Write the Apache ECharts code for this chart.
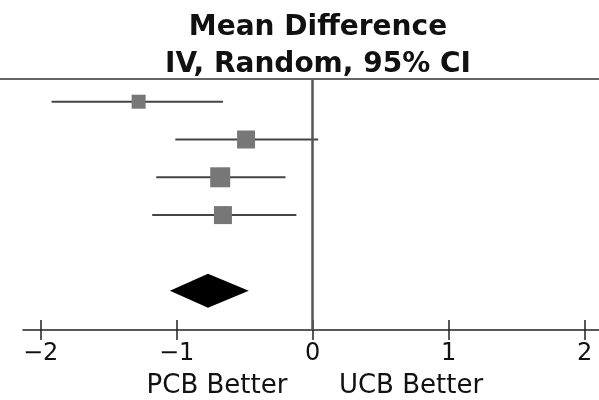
<!DOCTYPE html>
<html><head><meta charset="utf-8">
<script src="https://cdn.jsdelivr.net/npm/echarts@6/dist/echarts.min.js"></script>
<style>html,body{margin:0;padding:0;background:#fff}#c{width:599px;height:400px}</style>
</head><body><div id="c"></div>
<script>
const studies = ['Study 1', 'Study 2', 'Study 3', 'Study 4'];
const meanDiff = [-1.28, -0.49, -0.68, -0.66];
const ciLow = [-1.92, -1.01, -1.15, -1.18];
const ciHigh = [-0.66, 0.04, -0.20, -0.12];
const weights = [14, 18, 20, 18];
const pooled = { mean: -0.77, low: -1.05, high: -0.47 };
const tickValues = [-2, -1, 0, 1, 2];
const titleLines = ['Mean Difference', 'IV, Random, 95% CI'];
const leftLabel = 'PCB Better';
const rightLabel = 'UCB Better';

const FONT = 'DejaVu Sans';
const X_MIN = -2.13, X_MAX = 2.105, Y_MIN = -0.574, Y_MAX = 6.04;
const chart = echarts.init(document.getElementById('c'), null, { renderer: 'canvas' });

const studyData = studies.map((s, i) => [i, meanDiff[i], ciLow[i], ciHigh[i], weights[i]]);
const pooledRow = 5;

chart.setOption({
  animation: false,
  title: {
    text: titleLines.join('\n'),
    left: 313, top: 4, textAlign: 'center',
    textStyle: { fontFamily: FONT, fontWeight: 'bold', fontSize: 28, lineHeight: 37, color: '#111' }
  },
  grid: { left: 23, right: 0, top: 80, bottom: 70, containLabel: false },
  xAxis: [{
    type: 'value', min: X_MIN, max: X_MAX,
    axisLine: { show: true, onZero: false, lineStyle: { color: '#222', width: 1.5 } },
    axisTick: { show: true, customValues: tickValues, length: 10, lineStyle: { color: '#222', width: 1.5 } },
    axisLabel: { customValues: tickValues, margin: 12, fontFamily: FONT, fontSize: 24, color: '#111',
      formatter: v => (v < 0 ? '\u2212' + Math.abs(v) : String(v)) },
    splitLine: { show: false }
  }, {
    type: 'value', min: X_MIN, max: X_MAX, position: 'bottom',
    axisLine: { show: false, onZero: false },
    axisTick: { show: true, inside: true, customValues: tickValues, length: 10, lineStyle: { color: '#222', width: 1.5 } },
    axisLabel: { show: false }, splitLine: { show: false }
  }],
  yAxis: { type: 'value', min: Y_MIN, max: Y_MAX, inverse: true, show: false },
  graphic: [
    { type: 'line', shape: { x1: 0, y1: 79, x2: 599, y2: 79 }, style: { stroke: '#333', lineWidth: 1.5 } },
    { type: 'text', x: 217, y: 373, style: { text: leftLabel, align: 'center', fontFamily: FONT, fontSize: 26, fill: '#111' } },
    { type: 'text', x: 411, y: 373, style: { text: rightLabel, align: 'center', fontFamily: FONT, fontSize: 26, fill: '#111' } }
  ],
  series: [{
    type: 'custom',
    data: studyData,
    renderItem: (params, api) => {
      const row = api.value(0);
      const p = api.coord([api.value(1), row]);
      const a = api.coord([api.value(2), row]);
      const b = api.coord([api.value(3), row]);
      const s = api.value(4);
      return { type: 'group', children: [
        { type: 'line', shape: { x1: a[0], y1: a[1], x2: b[0], y2: b[1] }, style: { stroke: '#444', lineWidth: 2 } },
        { type: 'rect', shape: { x: p[0] - s / 2, y: p[1] - s / 2, width: s, height: s }, style: { fill: '#777' } }
      ]};
    },
    markLine: {
      silent: true, symbol: 'none', label: { show: false },
      lineStyle: { color: '#555', width: 2.5, type: 'solid' },
      data: [[{ coord: [0, Y_MIN] }, { coord: [0, Y_MAX] }]]
    }
  }, {
    type: 'custom',
    data: [[pooledRow, pooled.mean, pooled.low, pooled.high]],
    renderItem: (params, api) => {
      const row = api.value(0);
      const c = api.coord([api.value(1), row]);
      const l = api.coord([api.value(2), row]);
      const r = api.coord([api.value(3), row]);
      const h = 17;
      return { type: 'polygon', shape: { points: [[l[0], c[1]], [c[0], c[1] - h], [r[0], c[1]], [c[0], c[1] + h]] }, style: { fill: '#000' } };
    }
  }]
});
</script></body></html>
